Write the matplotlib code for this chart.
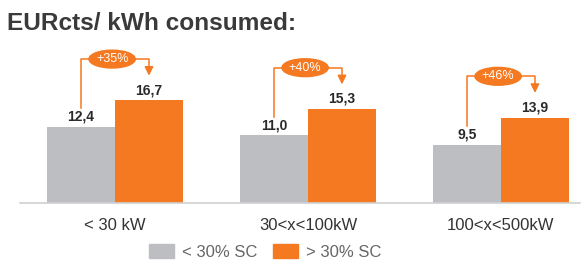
import matplotlib.pyplot as plt
from matplotlib.patches import Ellipse, Patch
import numpy as np

# data
categories = ['< 30 kW', '30<x<100kW', '100<x<500kW']
low_sc = [12.4, 11.0, 9.5]      # < 30% SC
high_sc = [16.7, 15.3, 13.9]    # > 30% SC
increase = ['+35%', '+40%', '+46%']
series_names = ['< 30% SC', '> 30% SC']

grey = '#BDBEC2'
orange = '#F47920'

plt.rcParams['font.family'] = ['Liberation Sans', 'DejaVu Sans']

fig = plt.figure(figsize=(5.86, 2.6), dpi=100)
ax = fig.add_axes([0, 1 - 203 / 260, 1, 173 / 260])

x = np.arange(len(categories))
w = 0.352
ax.bar(x - w / 2, low_sc, w, color=grey)
ax.bar(x + w / 2, high_sc, w, color=orange)

ax.set_xlim(-115 / 193, (586 - 115) / 193)
ax.set_ylim(0, 173 / 6.15)
ax.axhline(0, xmin=20 / 586, xmax=0.99, color='#d0d0d0', lw=1.2, clip_on=False)

for s in ax.spines.values():
    s.set_visible(False)
ax.set_yticks([])
ax.set_xticks(x)
ax.set_xticklabels(categories, fontsize=12, color='#333333')
ax.tick_params(axis='x', length=0, pad=11)

for i in range(len(categories)):
    g, o = low_sc[i], high_sc[i]
    xg, xo = x[i] - w / 2, x[i] + w / 2
    ax.text(xg, g + 0.5, f'{g:.1f}'.replace('.', ','), ha='center', va='bottom',
            fontsize=10, fontweight='bold', color='#2a2a2a')
    ax.text(xo, o + 0.5, f'{o:.1f}'.replace('.', ','), ha='center', va='bottom',
            fontsize=10, fontweight='bold', color='#2a2a2a')
    top = o + 6.7
    ax.plot([xg, xg, xo, xo], [g + 3.0, top, top, o + 4.8], color=orange, lw=1.1)
    ax.annotate('', xy=(xo, o + 4.0), xytext=(xo, o + 5.2),
                arrowprops=dict(arrowstyle='-|>', color=orange, lw=1.1,
                                mutation_scale=13, shrinkA=0, shrinkB=0))
    ax.add_patch(Ellipse((x[i] - 0.015, top), 0.24, 2.9, color=orange, zorder=3))
    ax.text(x[i] - 0.015, top, increase[i], ha='center', va='center',
            fontsize=9, color='white', zorder=4)

fig.text(0.012, 1 - 24 / 260, 'EURcts/ kWh consumed:', fontsize=17.6, fontweight='bold',
         color='#3a3a3a', va='center', ha='left')

handles = [Patch(color=grey), Patch(color=orange)]
fig.legend(handles, series_names, loc='center', bbox_to_anchor=(265 / 586, 1 - 252 / 260),
           ncol=2, frameon=False, fontsize=12, handlelength=1.5, handleheight=0.9,
           columnspacing=0.9, handletextpad=0.5, labelcolor='#666666')

fig.savefig('out.png', dpi=100)
